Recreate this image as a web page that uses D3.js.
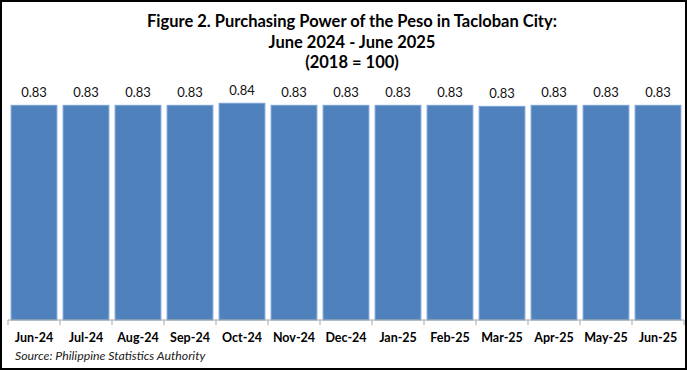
<!DOCTYPE html>
<html>
<head>
<meta charset="utf-8">
<script src="https://cdn.jsdelivr.net/npm/d3@7"></script>
<style>
  body { margin: 0; background: #fff; }
  svg { display: block; }
</style>
</head>
<body>
<svg id="chart" width="687" height="370"></svg>
<script>
var months = ['Jun-24', 'Jul-24', 'Aug-24', 'Sep-24', 'Oct-24', 'Nov-24', 'Dec-24',
              'Jan-25', 'Feb-25', 'Mar-25', 'Apr-25', 'May-25', 'Jun-25']
var power = [0.832, 0.832, 0.832, 0.832, 0.840, 0.832, 0.832,
             0.832, 0.832, 0.828, 0.832, 0.832, 0.832]
var labels = ['0.83', '0.83', '0.83', '0.83', '0.84', '0.83', '0.83',
              '0.83', '0.83', '0.83', '0.83', '0.83', '0.83']
var titleLines = ['Figure 2. Purchasing Power of the Peso in Tacloban City:',
                  'June 2024 - June 2025', '(2018 = 100)']

var svg = d3.select('#chart')
var width = +svg.attr('width')
var height = +svg.attr('height')
var font = 'Lato, "Open Sans", sans-serif'

// outer frame
svg.append('rect')
    .attr('x', 1).attr('y', 1)
    .attr('width', width - 2).attr('height', height - 2)
    .attr('fill', 'none').attr('stroke', '#000').attr('stroke-width', 2)

var x = d3.scaleBand()
    .domain(months)
    .range([8, 684])
    .paddingInner(0.12)
    .paddingOuter(0.06)

var y = d3.scaleLinear()
    .domain([0, 0.9])
    .range([320, 320 - 0.9 * 258])

svg.selectAll('text.title')
    .data(titleLines).enter()
    .append('text')
    .attr('class', 'title')
    .attr('x', 352)
    .attr('y', (d, i) => 27 + i * 20.5)
    .attr('text-anchor', 'middle')
    .attr('font-family', font)
    .attr('font-weight', 'bold')
    .attr('font-size', 16.5)
    .attr('fill', '#000')
    .text(d => d)

svg.append('g').selectAll('rect')
    .data(power).enter()
    .append('rect')
    .attr('x', (d, i) => x(months[i]))
    .attr('y', d => y(d))
    .attr('width', x.bandwidth())
    .attr('height', d => y(0) - y(d))
    .attr('fill', '#4f81bd')
    .attr('stroke', '#79a1d6')
    .attr('stroke-width', 1)

svg.append('g').selectAll('text')
    .data(power).enter()
    .append('text')
    .attr('x', (d, i) => x(months[i]) + x.bandwidth() / 2)
    .attr('y', d => y(d) - 8)
    .attr('text-anchor', 'middle')
    .attr('font-family', font)
    .attr('font-size', 13)
    .attr('fill', '#111')
    .text((d, i) => labels[i])

// x axis
var axis = svg.append('g').attr('transform', 'translate(0,320)')
axis.append('line')
    .attr('x1', 8).attr('x2', 684)
    .attr('stroke', '#a6a6a6').attr('stroke-width', 1)
axis.selectAll('line.tick')
    .data(d3.range(months.length + 1)).enter()
    .append('line')
    .attr('class', 'tick')
    .attr('x1', i => 8 + i * (676 / months.length))
    .attr('x2', i => 8 + i * (676 / months.length))
    .attr('y1', 0).attr('y2', 5)
    .attr('stroke', '#a6a6a6')
axis.selectAll('text')
    .data(months).enter()
    .append('text')
    .attr('x', d => x(d) + x.bandwidth() / 2)
    .attr('y', 22)
    .attr('text-anchor', 'middle')
    .attr('font-family', font)
    .attr('font-weight', 'bold')
    .attr('font-size', 12.5)
    .attr('fill', '#000')
    .text(d => d)

svg.append('text')
    .attr('x', 15).attr('y', 360)
    .attr('font-family', font)
    .attr('font-style', 'italic')
    .attr('font-size', 12.3)
    .attr('fill', '#222')
    .text('Source: Philippine Statistics Authority')
</script>
</body>
</html>
